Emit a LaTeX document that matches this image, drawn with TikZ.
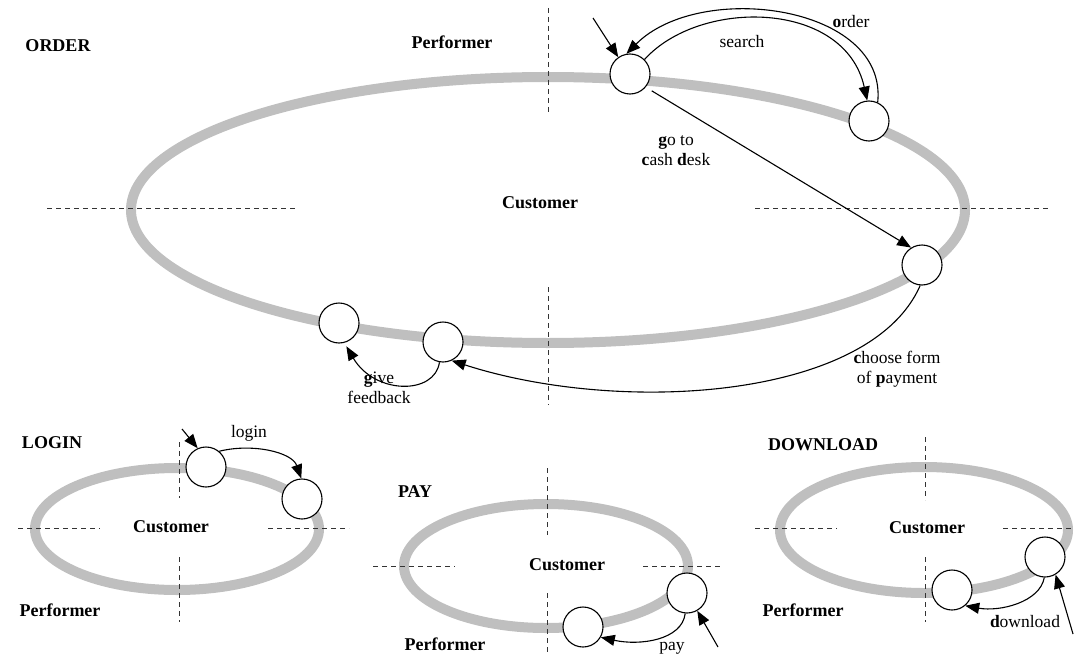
\documentclass[tikz,border=0pt]{standalone}
\usepackage{fontspec}
\setmainfont{Liberation Serif}
\usetikzlibrary{arrows.meta}
\begin{document}
\begin{tikzpicture}[x=1pt,y=-1pt,
  ring/.style={draw=black!25,line width=10pt},
  sep/.style={draw=black!80,dashed,line width=0.9pt,dash pattern=on 5pt off 4pt},
  st/.style={circle,draw,line width=1.1pt,fill=white,minimum size=40pt,inner sep=0pt},
  arr/.style={draw,line width=1.1pt,-{Triangle[length=14pt,width=11pt]}},
  lab/.style={font=\fontsize{17.5}{20}\selectfont,align=center,inner sep=0pt},
  blab/.style={font=\fontsize{18}{20}\selectfont\bfseries,inner sep=0pt}]
\useasboundingbox (0,0) rectangle (1075,658);
% ---------- ORDER ----------
\draw[ring] (548,210) ellipse [x radius=417,y radius=133];
\draw[sep] (548,8) -- (548,112);
\draw[sep] (548,287) -- (548,405);
\draw[sep] (47,208) -- (297,208);
\draw[sep] (755,208) -- (1048,208);
\node[blab] (tOrder) at (58,46) {ORDER};
\node[blab] (tPerf) at (452,42) {Performer};
\node[blab] (tCust) at (540,203) {Customer};
\node[st] (A) at (630,74) {};
\node[st] (B) at (869,121) {};
\node[st] (C) at (922,265) {};
\node[st] (D) at (443,342) {};
\node[st] (E) at (339,323) {};
\coordinate (inA) at (593,18);
\draw[arr] (inA) -- (A.125);
\draw[arr] (A.45) .. controls (700,-2) and (845,0) .. (B.95);
\draw[arr] (B.65) .. controls (888,5) and (700,-20) .. (A.100);
\draw[arr,shorten <=7pt] (A.-40) -- (C.122);
\draw[arr] (C.-95) .. controls (870,400) and (620,415) .. (D.-65);
\draw[arr,shorten >=4pt] (D.-100) .. controls (435,395) and (375,395) .. (E.-75);
\node[lab] (tSearch) at (742,42) {search};
\node[lab] (tOrd) at (851,22) {\textbf{o}rder};
\node[lab] (tGo) at (676,151) {\textbf{g}o to\\\textbf{c}ash \textbf{d}esk};
\node[lab] (tChoose) at (897,369) {\textbf{c}hoose form\\of \textbf{p}ayment};
\node[lab] (tGive) at (379,388) {\textbf{g}ive\\feedback};
% ---------- LOGIN ----------
\draw[ring] (177,529) ellipse [x radius=142,y radius=61];
\draw[sep] (179,442) -- (179,498);
\draw[sep] (179,557) -- (179,622);
\draw[sep] (18,528) -- (100,528);
\draw[sep] (268,528) -- (349,528);
\node[st] (L1) at (206,467) {};
\node[st] (L2) at (302,499) {};
\coordinate (inL) at (182,429);
\draw[arr] (inL) -- (L1.114);
\draw[arr] (L1.50) .. controls (252,443) and (292,452) .. (L2.92);
\node[blab] (tLogin) at (52,443) {LOGIN};
\node[lab] (tlogin) at (249,433) {login};
\node[blab] (tCustL) at (171,527) {Customer};
\node[blab] (tPerfL) at (60,610) {Performer};
% ---------- PAY ----------
\draw[ring] (546,566) ellipse [x radius=142,y radius=62];
\draw[sep] (547,468) -- (547,535);
\draw[sep] (547,593) -- (547,655);
\draw[sep] (373,566) -- (455,566);
\draw[sep] (643,566) -- (723,566);
\node[st] (P1) at (687,593) {};
\node[st] (P2) at (583,627) {};
\coordinate (inP) at (718,647);
\draw[arr] (inP) -- (P1.-60);
\draw[arr] (P1.-95) .. controls (682,640) and (640,646) .. (P2.-30);
\node[blab] (tPay) at (415,492) {PAY};
\node[lab] (tpay) at (672,648) {pay};
\node[blab] (tCustP) at (567,565) {Customer};
\node[blab] (tPerfP) at (445,644) {Performer};
% ---------- DOWNLOAD ----------
\draw[ring] (924,530) ellipse [x radius=144,y radius=63];
\draw[sep] (925,437) -- (925,500);
\draw[sep] (925,557) -- (925,622);
\draw[sep] (755,528) -- (837,528);
\draw[sep] (1003,528) -- (1075,528);
\node[st] (W1) at (1045,557) {};
\node[st] (W2) at (952,590) {};
\coordinate (inW) at (1073,634);
\draw[arr] (inW) -- (W1.-59);
\draw[arr] (W1.-92) .. controls (1040,602) and (1000,612) .. (W2.-50);
\node[blab] (tDown) at (823,445) {DOWNLOAD};
\node[lab] (tdown) at (1025,622) {\textbf{d}ownload};
\node[blab] (tCustW) at (927,528) {Customer};
\node[blab] (tPerfW) at (803,610) {Performer};
\end{tikzpicture}
\end{document}
